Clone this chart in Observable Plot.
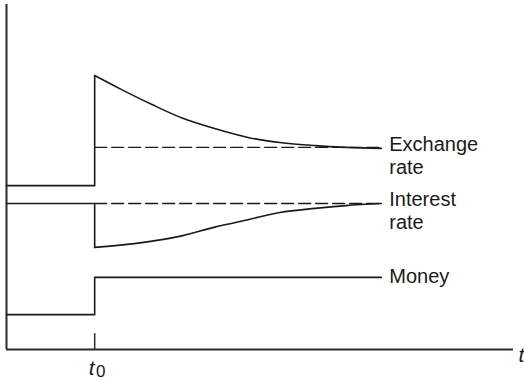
<!DOCTYPE html>
<html>
<head>
<meta charset="utf-8">
<script src="https://cdn.jsdelivr.net/npm/d3@7"></script>
<script src="https://cdn.jsdelivr.net/npm/@observablehq/plot@0.6"></script>
<style>
  html, body { margin: 0; padding: 0; background: #fff; }
  svg { display: block; }
</style>
</head>
<body>
<div id="chart"></div>
<script>
// time (abstract units), shock at t0 = 2, adjustment ends at 8.5
const t0 = 2;
const tEnd = 8.5;
const tMax = 11.5;

// Exchange rate: level before the shock, then the adjustment path after it
const exchBefore = 47.5;
const exchT = [2, 2.6, 3.3, 4, 4.7, 5.5, 6.2, 7, 7.7, 8.5];
const exchV = [79.4, 75.4, 71, 67, 64.1, 61.4, 60, 59.1, 58.6, 58.3];
const exchLongRun = 58.6;

// Interest rate
const intBefore = 42.3;
const intT = [2, 2.9, 4, 4.7, 5.5, 6.2, 7, 7.7, 8.5];
const intV = [29.6, 30.7, 33.0, 35.4, 37.7, 39.7, 40.9, 41.7, 42.3];
const intLongRun = 42.3;

// Money
const monBefore = 10.1;
const monAfter = 20.9;

// labels
const labelNames = ["Exchange\nrate", "Interest\nrate", "Money"];
const labelY = [58.3, 42.3, 20.9];

const toRows = (ts, vs) => ts.map((t, i) => ({t, v: vs[i]}));
const exch = toRows(exchT, exchV);
const intr = toRows(intT, intV);
const steps = [
  [{t: 0, v: exchBefore}, {t: t0, v: exchBefore}, {t: t0, v: exchV[0]}],
  [{t: 0, v: intBefore}, {t: t0, v: intBefore}, {t: t0, v: intV[0]}],
  [{t: 0, v: monBefore}, {t: t0, v: monBefore}, {t: t0, v: monAfter}, {t: tEnd, v: monAfter}]
];
const dashed = [
  [{t: t0, v: exchLongRun}, {t: tEnd, v: exchLongRun}],
  [{t: t0, v: intLongRun}, {t: tEnd, v: intLongRun}]
];
const labels = labelNames.map((s, i) => ({t: tEnd, v: labelY[i], s}));

const font = "Liberation Sans, Arial, Helvetica, sans-serif";
const ink = "#1a1a1a";

const chart = Plot.plot({
  width: 524,
  height: 381,
  marginLeft: 6,
  marginRight: 11,
  marginTop: 4,
  marginBottom: 32,
  x: {domain: [0, tMax], axis: null},
  y: {domain: [0, 100], axis: null},
  style: {fontFamily: font, background: "#fff", overflow: "visible"},
  marks: [
    // axes
    Plot.ruleX([0], {y1: 0, y2: 100, stroke: "#2a2a2a", strokeWidth: 2}),
    Plot.ruleY([0], {x1: 0, x2: tMax, stroke: "#2a2a2a", strokeWidth: 2}),
    Plot.ruleX([t0], {y1: 0, y2: 4.6, stroke: "#2a2a2a", strokeWidth: 1.5}),
    // step parts
    ...steps.map(d => Plot.line(d, {x: "t", y: "v", stroke: ink, strokeWidth: 1.6})),
    // adjustment paths
    Plot.line(exch, {x: "t", y: "v", stroke: ink, strokeWidth: 1.6, curve: "monotone-x"}),
    Plot.line(intr, {x: "t", y: "v", stroke: ink, strokeWidth: 1.6, curve: "monotone-x"}),
    ...dashed.map(d => Plot.line(d, {x: "t", y: "v", stroke: ink, strokeWidth: 1.4, strokeDasharray: "12,5"})),
    // labels
    Plot.text(labels.slice(0, 2), {x: "t", y: "v", text: "s", textAnchor: "start", lineAnchor: "top", dx: 8, dy: -14, fontSize: 20, lineHeight: 1.15, fill: ink}),
    Plot.text(labels.slice(2), {x: "t", y: "v", text: "s", textAnchor: "start", dx: 8, dy: -1, fontSize: 20, fill: ink}),
    // axis labels
    Plot.text([tMax], {x: d => d, y: 0, text: () => "t", textAnchor: "start", dx: 5, dy: 6, fontSize: 21, fontStyle: "italic", fill: ink}),
    Plot.text([t0], {x: d => d, y: 0, text: () => "t", textAnchor: "middle", dx: -3, dy: 19, fontSize: 21, fontStyle: "italic", fill: ink}),
    Plot.text([t0], {x: d => d, y: 0, text: () => "0", textAnchor: "middle", dx: 6, dy: 22, fontSize: 17, fill: ink})
  ]
});
document.getElementById("chart").appendChild(chart);
</script>
</body>
</html>
